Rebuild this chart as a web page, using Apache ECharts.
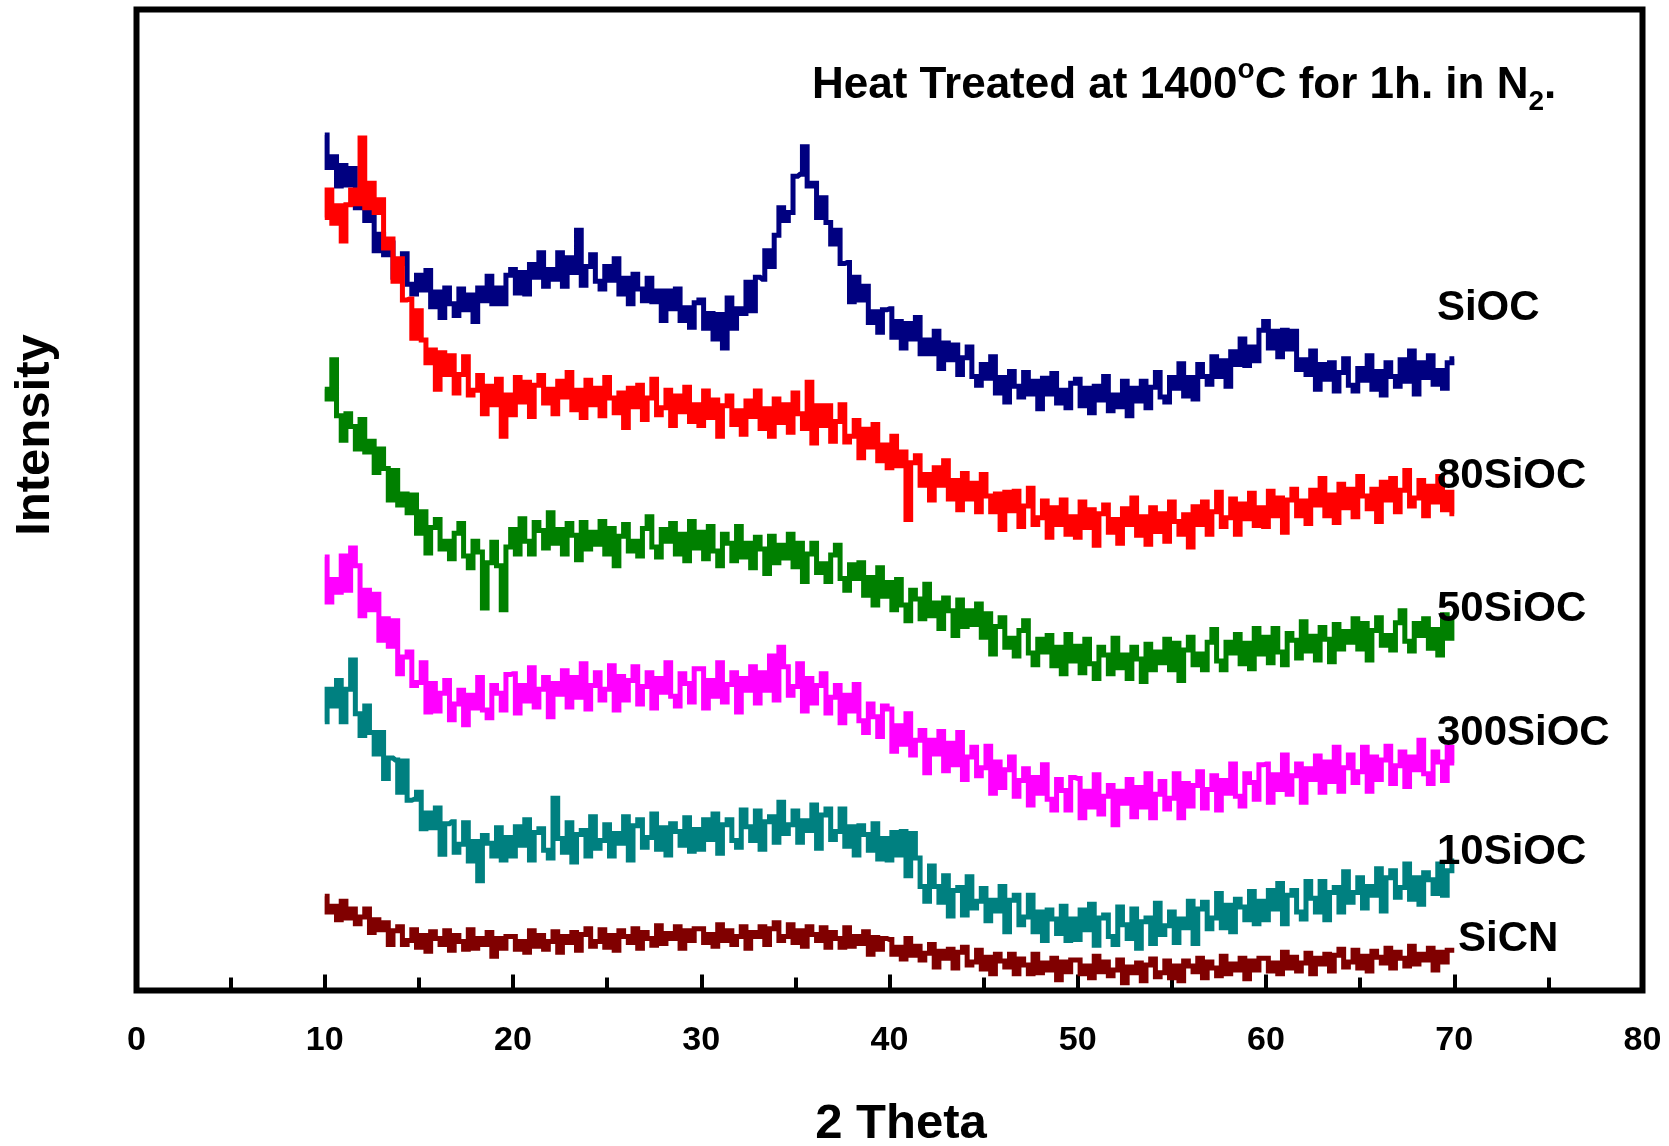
<!DOCTYPE html>
<html>
<head>
<meta charset="utf-8">
<title>XRD patterns – heat treated at 1400 °C in N2</title>
<script src="https://cdn.jsdelivr.net/npm/echarts@6.0.0/dist/echarts.min.js"></script>
<style>
  html, body { margin: 0; padding: 0; background: #ffffff; }
  #chart { width: 1669px; height: 1146px; }
</style>
</head>
<body>
<div id="chart"></div>
<script>
// Diffractometer scan: 10–70° 2θ in 0.25° steps (241 points per pattern)
const SCAN_START = 10;
const SCAN_STEP = 0.25;

const xTickLabels = [0, 10, 20, 30, 40, 50, 60, 70, 80];

const seriesNames = ['SiOC', '80SiOC', '50SiOC', '300SiOC', '10SiOC', 'SiCN'];
const seriesColors = ['#000080', '#ff0000', '#008000', '#ff00ff', '#008080', '#800000'];

// Intensities (arbitrary units, patterns stacked with vertical offsets)
const siocCounts = [
  872, 839, 850, 820, 841, 821, 838, 798, 808, 785, 800, 754, 771, 750, 762, 727, 741, 751, 720, 710,
  729, 714, 734, 697, 712, 686, 716, 700, 688, 715, 694, 709, 682, 716, 703, 728, 700, 716, 700, 729,
  735, 711, 732, 710, 740, 727, 752, 718, 735, 725, 752, 718, 747, 732, 775, 719, 738, 750, 723, 715,
  738, 724, 746, 710, 726, 700, 730, 715, 703, 726, 702, 713, 683, 713, 695, 715, 683, 696, 676, 701,
  704, 675, 690, 664, 689, 655, 706, 675, 695, 690, 722, 693, 727, 725, 754, 738, 770, 798, 785, 793,
  830, 832, 860, 820, 823, 788, 808, 783, 761, 775, 741, 742, 702, 727, 704, 718, 681, 692, 671, 694,
  695, 666, 682, 655, 680, 664, 686, 649, 663, 649, 672, 634, 660, 643, 658, 628, 645, 656, 626, 617,
  638, 624, 646, 609, 625, 600, 631, 616, 605, 630, 608, 621, 593, 624, 608, 629, 599, 612, 594, 619,
  623, 596, 614, 589, 616, 602, 626, 591, 607, 595, 621, 586, 614, 601, 621, 594, 615, 630, 605, 600,
  625, 614, 639, 606, 625, 603, 638, 626, 618, 646, 626, 642, 616, 651, 638, 664, 637, 656, 642, 673,
  682, 655, 672, 646, 673, 654, 672, 633, 643, 628, 652, 613, 638, 623, 640, 611, 630, 644, 617, 611,
  634, 622, 647, 613, 631, 607, 640, 626, 616, 643, 621, 652, 608, 640, 625, 647, 618, 632, 614, 640,
  644
];

const sioc80Counts = [
  788, 816, 782, 800, 764, 801, 816, 802, 869, 798, 823, 793, 806, 757, 766, 723, 746, 704, 705, 665,
  693, 663, 640, 653, 613, 650, 628, 647, 609, 628, 646, 607, 612, 627, 588, 616, 597, 623, 565, 607,
  587, 625, 600, 620, 585, 617, 627, 599, 613, 588, 621, 605, 630, 592, 612, 584, 622, 597, 614, 586,
  625, 604, 589, 609, 574, 614, 595, 617, 582, 604, 623, 587, 594, 612, 576, 606, 590, 615, 580, 597,
  576, 611, 584, 602, 565, 596, 606, 577, 591, 567, 601, 585, 611, 573, 593, 565, 603, 579, 597, 569,
  609, 588, 573, 620, 558, 596, 576, 596, 560, 580, 597, 559, 565, 581, 543, 572, 554, 577, 540, 556,
  533, 565, 535, 549, 480, 538, 545, 515, 526, 500, 533, 515, 540, 501, 520, 490, 527, 501, 517, 488,
  526, 504, 488, 506, 470, 508, 489, 509, 473, 494, 512, 475, 482, 499, 462, 492, 475, 500, 465, 483,
  462, 498, 472, 490, 454, 486, 495, 467, 480, 456, 491, 475, 502, 464, 483, 455, 492, 468, 486, 458,
  498, 478, 465, 485, 452, 493, 475, 498, 465, 488, 508, 473, 482, 501, 465, 496, 481, 507, 474, 492,
  473, 509, 484, 502, 467, 500, 511, 484, 499, 476, 510, 495, 522, 484, 505, 477, 516, 492, 511, 483,
  524, 504, 491, 511, 478, 518, 500, 522, 488, 510, 530, 494, 502, 520, 484, 514, 498, 524, 490, 508,
  486
];

const sioc50Counts = [
  613, 603, 643, 586, 561, 588, 575, 552, 582, 549, 560, 528, 552, 532, 500, 530, 495, 506, 487, 505,
  466, 488, 446, 472, 480, 450, 458, 440, 466, 476, 443, 431, 458, 447, 390, 436, 457, 433, 388, 452,
  470, 445, 481, 458, 445, 477, 469, 451, 487, 456, 470, 445, 476, 464, 439, 477, 450, 467, 455, 478,
  445, 471, 433, 463, 475, 448, 458, 443, 471, 483, 452, 442, 470, 458, 476, 445, 465, 438, 478, 451,
  467, 440, 473, 448, 433, 465, 456, 438, 473, 442, 456, 431, 462, 450, 425, 463, 436, 454, 441, 465,
  432, 456, 417, 445, 456, 426, 435, 417, 444, 454, 420, 408, 434, 420, 436, 403, 421, 393, 431, 402,
  416, 388, 419, 393, 377, 408, 399, 379, 414, 382, 395, 369, 400, 387, 362, 398, 371, 387, 373, 394,
  360, 384, 343, 371, 380, 350, 359, 341, 367, 377, 344, 332, 358, 345, 362, 331, 350, 323, 363, 336,
  351, 324, 358, 333, 318, 350, 342, 323, 359, 329, 342, 318, 350, 338, 315, 353, 327, 345, 334, 358,
  327, 354, 316, 347, 360, 332, 343, 327, 355, 368, 336, 327, 355, 344, 363, 333, 354, 328, 369, 343,
  360, 334, 369, 345, 332, 364, 357, 339, 376, 346, 361, 337, 370, 358, 335, 373, 348, 366, 355, 379,
  348, 374, 337, 367, 380, 352, 362, 347, 375, 387, 356, 346, 374, 362, 379, 349, 368, 342, 383, 359,
  378
];

const sioc300Counts = [
  442, 396, 419, 406, 443, 408, 451, 433, 382, 408, 388, 404, 357, 379, 351, 377, 323, 340, 345, 311,
  314, 334, 284, 313, 285, 303, 316, 276, 292, 306, 271, 301, 288, 319, 286, 278, 311, 303, 286, 322,
  323, 283, 311, 295, 329, 289, 307, 319, 279, 313, 302, 326, 289, 319, 299, 333, 287, 311, 324, 296,
  307, 331, 286, 320, 296, 316, 330, 292, 310, 324, 288, 318, 304, 334, 300, 290, 323, 313, 294, 328,
  328, 288, 316, 300, 334, 294, 312, 324, 284, 318, 306, 330, 293, 324, 306, 341, 296, 350, 330, 301,
  310, 333, 285, 318, 293, 311, 323, 283, 299, 311, 273, 301, 285, 312, 275, 263, 292, 279, 259, 290,
  287, 244, 270, 251, 282, 240, 255, 265, 222, 255, 241, 264, 224, 252, 230, 263, 215, 238, 248, 219,
  227, 249, 201, 233, 207, 225, 238, 198, 214, 226, 189, 217, 201, 230, 195, 184, 215, 204, 184, 217,
  216, 176, 203, 187, 220, 180, 198, 209, 169, 203, 191, 215, 177, 207, 187, 221, 176, 200, 213, 185,
  196, 221, 176, 211, 188, 209, 223, 186, 205, 219, 184, 214, 201, 231, 198, 188, 221, 212, 195, 230,
  231, 192, 220, 205, 240, 200, 219, 231, 192, 226, 215, 239, 202, 233, 213, 248, 203, 227, 240, 212,
  223, 248, 203, 238, 215, 235, 249, 211, 229, 243, 208, 238, 225, 255, 221, 211, 243, 233, 214, 248,
  232
];

const sioc10Counts = [
  274, 307, 290, 316, 274, 307, 337, 282, 260, 290, 263, 241, 263, 216, 237, 235, 202, 234, 194, 195,
  202, 165, 181, 166, 186, 139, 170, 172, 141, 149, 171, 132, 152, 112, 158, 150, 137, 166, 133, 156,
  137, 167, 148, 174, 133, 161, 165, 143, 135, 196, 155, 141, 171, 131, 159, 163, 137, 177, 145, 153,
  169, 137, 160, 150, 177, 133, 168, 174, 146, 156, 180, 144, 166, 138, 170, 162, 148, 176, 142, 164,
  144, 174, 154, 180, 140, 169, 174, 153, 146, 184, 167, 153, 183, 144, 172, 177, 151, 192, 160, 169,
  183, 151, 173, 163, 189, 145, 179, 185, 154, 162, 185, 147, 167, 138, 168, 159, 143, 170, 134, 155,
  133, 161, 138, 162, 117, 160, 135, 106, 91, 127, 106, 90, 117, 76, 102, 105, 77, 116, 84, 91,
  104, 71, 92, 81, 106, 60, 92, 97, 67, 75, 97, 60, 80, 51, 82, 73, 58, 86, 51, 73,
  52, 82, 62, 88, 46, 74, 77, 55, 47, 85, 67, 53, 83, 43, 70, 74, 48, 89, 57, 66,
  80, 49, 73, 64, 91, 48, 83, 90, 63, 74, 99, 64, 87, 60, 93, 85, 72, 101, 68, 91,
  72, 102, 83, 109, 68, 97, 102, 80, 73, 111, 94, 80, 111, 72, 100, 105, 80, 121, 90, 100,
  115, 84, 106, 97, 124, 81, 115, 122, 95, 105, 129, 93, 115, 88, 120, 113, 99, 129, 97, 122,
  132
];

const sicnCounts = [
  96, 80, 86, 72, 91, 74, 83, 68, 75, 83, 59, 72, 62, 69, 47, 61, 65, 47, 51, 62,
  44, 56, 40, 60, 53, 47, 61, 41, 56, 50, 42, 62, 43, 53, 47, 59, 35, 53, 43, 55,
  55, 42, 50, 39, 61, 45, 56, 42, 50, 60, 39, 55, 49, 59, 41, 57, 63, 45, 50, 62,
  44, 56, 41, 61, 55, 49, 63, 43, 59, 53, 46, 66, 48, 58, 53, 65, 43, 61, 51, 63,
  63, 49, 57, 45, 67, 51, 61, 47, 55, 65, 43, 59, 55, 65, 47, 63, 69, 51, 55, 67,
  49, 61, 45, 65, 57, 51, 64, 44, 59, 53, 44, 64, 45, 55, 48, 60, 37, 54, 42, 53,
  52, 37, 44, 32, 53, 36, 45, 31, 38, 47, 24, 40, 33, 42, 23, 39, 44, 26, 29, 41,
  22, 34, 17, 37, 30, 24, 37, 17, 32, 26, 17, 37, 18, 28, 21, 33, 11, 29, 19, 31,
  31, 17, 25, 13, 35, 19, 29, 15, 21, 31, 8, 24, 18, 28, 10, 26, 32, 14, 18, 30,
  13, 25, 10, 30, 25, 19, 33, 13, 29, 23, 15, 35, 17, 27, 21, 33, 12, 30, 21, 33,
  33, 20, 28, 17, 39, 23, 34, 20, 28, 38, 17, 33, 27, 37, 20, 36, 42, 24, 29, 41,
  23, 35, 20, 40, 34, 28, 43, 23, 39, 33, 25, 45, 27, 37, 31, 43, 21, 39, 29, 41,
  41
];

// Where each pattern's name sits, in axis coordinates [2θ, intensity]
const labelAnchors = [
  [69.08, 695],
  [69.08, 524],
  [69.08, 388],
  [69.08, 262],
  [69.08, 141],
  [70.2, 52]
];

const FONT = '"Liberation Sans", Arial, Helvetica, sans-serif';
const countsBySeries = [siocCounts, sioc80Counts, sioc50Counts, sioc300Counts, sioc10Counts, sicnCounts];

function toPairs(counts) {
  return counts.map((c, i) => [SCAN_START + i * SCAN_STEP, c]);
}

const chart = echarts.init(document.getElementById('chart'), null, { renderer: 'canvas' });

const option = {
  backgroundColor: '#ffffff',
  animation: false,
  grid: {
    left: 136.5,
    top: 9.5,
    right: 26.5,
    bottom: 155.5,
    show: true,
    borderColor: '#000000',
    borderWidth: 6,
    backgroundColor: 'transparent'
  },
  xAxis: {
    type: 'value',
    min: xTickLabels[0],
    max: xTickLabels[xTickLabels.length - 1],
    interval: 10,
    axisLine: { show: false },
    axisTick: { show: true, inside: true, length: 16, lineStyle: { color: '#000', width: 4 } },
    minorTick: { show: true, splitNumber: 2, length: 13, lineStyle: { color: '#000', width: 4 } },
    splitLine: { show: false },
    axisLabel: {
      margin: 33,
      fontSize: 34,
      fontWeight: 'bold',
      color: '#000',
      fontFamily: FONT,
      formatter: v => (xTickLabels.indexOf(v) >= 0 ? String(v) : '')
    }
  },
  yAxis: {
    type: 'value',
    min: 0,
    max: 1000,
    show: false
  },
  series: seriesNames.map((name, k) => ({
    name: name,
    type: 'line',
    step: 'middle',
    showSymbol: false,
    symbol: 'none',
    data: toPairs(countsBySeries[k]),
    lineStyle: { color: seriesColors[k], width: 5, join: 'miter', cap: 'butt' },
    itemStyle: { color: seriesColors[k] },
    z: 2 + k
  }))
};

chart.setOption(option);

// Text layer: axis titles, treatment note and pattern names
const graphics = [
  {
    type: 'text',
    x: 901,
    y: 1124,
    style: {
      text: '2 Theta',
      font: 'bold 49px ' + FONT,
      fill: '#000',
      textAlign: 'center',
      textVerticalAlign: 'middle'
    }
  },
  {
    type: 'text',
    x: 35,
    y: 435,
    rotation: Math.PI / 2,
    style: {
      text: 'Intensity',
      font: 'bold 49px ' + FONT,
      fill: '#000',
      textAlign: 'center',
      textVerticalAlign: 'middle'
    }
  },
  {
    type: 'text',
    x: 812,
    y: 86,
    style: {
      text: '{m|Heat Treated at 1400}{sup|o}{m|C for 1h. in N}{sub|2}{m|.}',
      textAlign: 'left',
      textVerticalAlign: 'middle',
      rich: {
        m: { fontSize: 44, fontWeight: 'bold', fontFamily: FONT, fill: '#000', lineHeight: 60, verticalAlign: 'middle' },
        sup: { fontSize: 28, fontWeight: 'bold', fontFamily: FONT, fill: '#000', lineHeight: 28, verticalAlign: 'top' },
        sub: { fontSize: 28, fontWeight: 'bold', fontFamily: FONT, fill: '#000', lineHeight: 28, verticalAlign: 'bottom' }
      }
    }
  }
];

seriesNames.forEach((name, k) => {
  const p = chart.convertToPixel({ gridIndex: 0 }, labelAnchors[k]);
  graphics.push({
    type: 'text',
    x: p[0],
    y: p[1],
    z: 20,
    style: {
      text: name,
      font: 'bold 42px ' + FONT,
      fill: '#000',
      textAlign: 'left',
      textVerticalAlign: 'middle'
    }
  });
});

chart.setOption({ graphic: { elements: graphics } });
</script>
</body>
</html>
